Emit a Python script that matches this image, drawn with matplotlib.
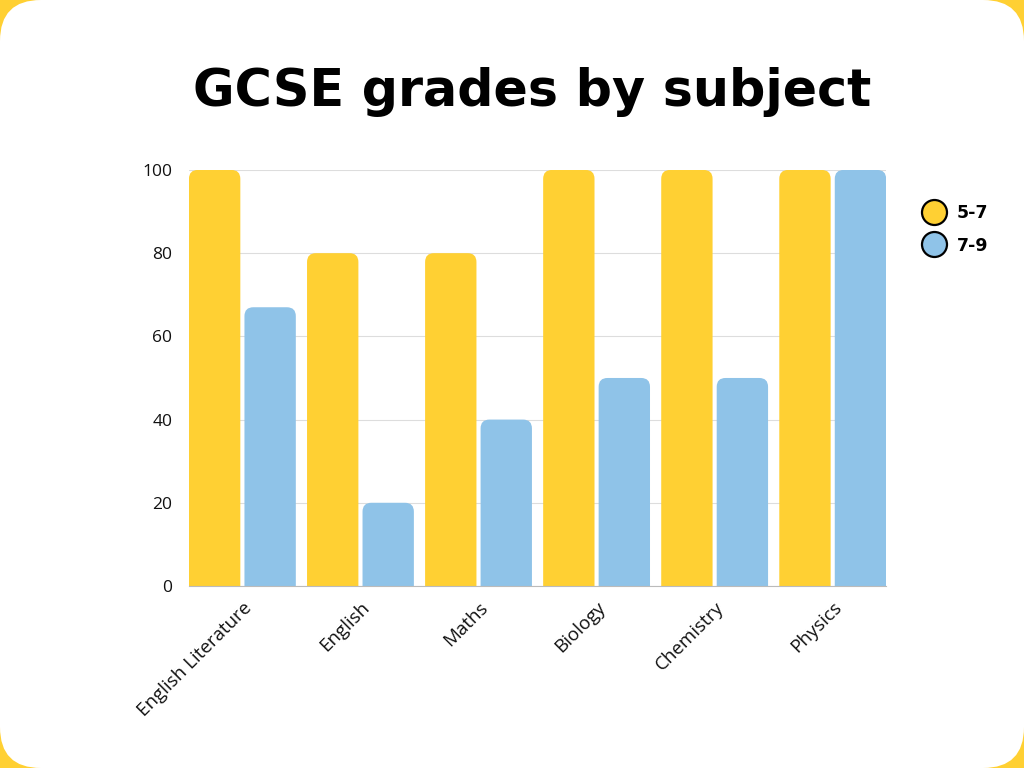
import matplotlib.pyplot as plt
from matplotlib.patches import FancyBboxPatch
from matplotlib.lines import Line2D
import numpy as np

subjects = ['English Literature', 'English', 'Maths', 'Biology', 'Chemistry', 'Physics']
grade_5_7 = [100, 80, 80, 100, 100, 100]
grade_7_9 = [67, 20, 40, 50, 50, 100]
series_names = ['5-7', '7-9']

yellow = '#FFD033'
blue = '#8FC3E8'

plt.rcParams['font.family'] = ['Open Sans', 'DejaVu Sans']

fig = plt.figure(figsize=(10.24, 7.68), dpi=100)
fig.patch.set_facecolor(yellow)
fig.patches.append(FancyBboxPatch((0, 0), 1, 1, boxstyle='round,pad=0,rounding_size=0.04',
                                  mutation_aspect=1024 / 768, transform=fig.transFigure,
                                  facecolor='white', edgecolor='none', zorder=-1))

ax = fig.add_axes([0.1846, 0.237, 0.6807, 0.5417])
ax.set_facecolor('none')
ax.set_zorder(2)

x = np.arange(len(subjects))
w = 0.435
gap = 0.035
bars1 = ax.bar(x - (w + gap) / 2, grade_5_7, w, color=yellow)
bars2 = ax.bar(x + (w + gap) / 2, grade_7_9, w, color=blue)

ax.set_xlim(-0.452, len(subjects) - 1 + 0.452)
ax.set_ylim(0, 100)

# swap the plain bars for ones with rounded tops
fig.canvas.draw()
bb = ax.get_window_extent()
px_x = bb.width / (ax.get_xlim()[1] - ax.get_xlim()[0])
px_y = bb.height / (ax.get_ylim()[1] - ax.get_ylim()[0])
aspect = px_x / px_y
for bars in (bars1, bars2):
    for b in bars:
        bx, by = b.get_x(), b.get_y()
        bw, bh = b.get_width(), b.get_height()
        p = FancyBboxPatch((bx, by - 5), bw, bh + 5,
                           boxstyle='round,pad=0,rounding_size=0.075',
                           mutation_aspect=aspect,
                           facecolor=b.get_facecolor(), edgecolor='none', zorder=2)
        ax.add_patch(p)
        b.remove()

ax.set_yticks([0, 20, 40, 60, 80, 100])
ax.yaxis.grid(True, color='#dddddd', linewidth=0.8)
ax.set_axisbelow(True)
for s in ['top', 'right', 'left']:
    ax.spines[s].set_visible(False)
ax.spines['bottom'].set_color('#bbbbbb')
ax.spines['bottom'].set_zorder(3)
ax.tick_params(axis='both', length=0, labelsize=12.5, colors='#111111')
ax.tick_params(axis='x', labelsize=13.5, pad=9)
ax.tick_params(axis='y', pad=12)
ax.set_xticks(x)
ax.set_xticklabels(subjects, rotation=45, ha='right', rotation_mode='anchor')

fig.text(0.52, 0.88, 'GCSE grades by subject', ha='center', va='center',
         fontsize=36.5, fontweight='bold', family='DejaVu Sans', color='black')

handles = [Line2D([], [], marker='o', linestyle='none', markersize=18,
                  markerfacecolor=c, markeredgecolor='black', markeredgewidth=1.6)
           for c in (yellow, blue)]
leg = fig.legend(handles, series_names, loc='upper left', bbox_to_anchor=(0.887, 0.755),
                 frameon=False, prop={'weight': 'bold', 'size': 12.5, 'family': 'DejaVu Sans'},
                 handletextpad=0.7, labelspacing=0.85, handlelength=1.2)

fig.savefig('out.png', dpi=100, facecolor=fig.get_facecolor())
